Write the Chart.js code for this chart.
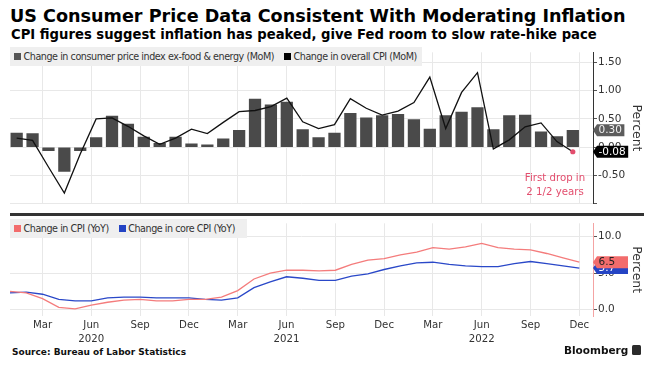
<!DOCTYPE html>
<html>
<head>
<meta charset="utf-8">
<script src="https://cdn.jsdelivr.net/npm/chart.js@4.4.1/dist/chart.umd.min.js"></script>
<style>
  body { margin: 0; width: 654px; height: 366px; background: #fff; position: relative; overflow: hidden; font-family: 'DejaVu Sans', sans-serif; color: #000; }
  .abs { position: absolute; }
  #title { left: 10px; top: 8px; font-weight: bold; font-size: 17.6px; line-height: 1; white-space: nowrap; }
  #subtitle { left: 11px; top: 28px; font-weight: bold; font-size: 13.2px; line-height: 1; white-space: nowrap; }
  .legend { background: #efefef; height: 19px; line-height: 20px; font-size: 9.6px; letter-spacing: -0.45px; color: #333; white-space: nowrap; padding-left: 4px; box-sizing: border-box; }
  .legend i { display: inline-block; width: 7px; height: 7px; margin-right: 2.5px; }
  .legend span + span { margin-left: 10px; }
  #sep { left: 10px; top: 213px; width: 634px; height: 3px; background: #333; }
  #note { left: 505px; top: 170.5px; width: 100px; text-align: center; font-size: 10.2px; line-height: 14px; color: #e34d6d; }
  #source { left: 12px; top: 347.5px; font-weight: bold; font-size: 9px; line-height: 1; color: #111; }
  #brand { left: 564px; top: 344.6px; font-weight: bold; font-size: 10.5px; line-height: 1; color: #111; }
  #logo { left: 632px; top: 345px; width: 9px; height: 10px; background: #2b2b2b; border-radius: 1.5px; }
</style>
</head>
<body>
<div id="title" class="abs">US Consumer Price Data Consistent With Moderating Inflation</div>
<div id="subtitle" class="abs">CPI figures suggest inflation has peaked, give Fed room to slow rate-hike pace</div>

<canvas id="topChart" class="abs" width="654" height="166" style="left:0;top:45px"></canvas>
<canvas id="bottomChart" class="abs" width="654" height="130" style="left:0;top:216px"></canvas>

<div class="abs legend" style="left:10px;top:47px;width:412px">
  <span><i style="background:#555"></i>Change in consumer price index ex-food &amp; energy (MoM)</span><span><i style="background:#000"></i>Change in overall CPI (MoM)</span>
</div>
<div class="abs legend" style="left:10px;top:219px;width:237px">
  <span><i style="background:#f26c6c"></i>Change in CPI (YoY)</span><span><i style="background:#2444c4"></i>Change in core CPI (YoY)</span>
</div>
<div id="sep" class="abs"></div>
<div id="note" class="abs">First drop in<br>2 1/2 years</div>
<div id="source" class="abs">Source: Bureau of Labor Statistics</div>
<div id="brand" class="abs">Bloomberg</div>
<div id="logo" class="abs"></div>

<script>
// Months covered by both panels
const months = [
  'Jan 2020', 'Feb 2020', 'Mar 2020', 'Apr 2020', 'May 2020', 'Jun 2020',
  'Jul 2020', 'Aug 2020', 'Sep 2020', 'Oct 2020', 'Nov 2020', 'Dec 2020',
  'Jan 2021', 'Feb 2021', 'Mar 2021', 'Apr 2021', 'May 2021', 'Jun 2021',
  'Jul 2021', 'Aug 2021', 'Sep 2021', 'Oct 2021', 'Nov 2021', 'Dec 2021',
  'Jan 2022', 'Feb 2022', 'Mar 2022', 'Apr 2022', 'May 2022', 'Jun 2022',
  'Jul 2022', 'Aug 2022', 'Sep 2022', 'Oct 2022', 'Nov 2022', 'Dec 2022'
];

// Month-over-month, percent
const coreMoM = [
  0.25, 0.24, -0.06, -0.43, -0.06, 0.17, 0.55, 0.41, 0.18, 0.07, 0.18, 0.06,
  0.04, 0.15, 0.30, 0.85, 0.75, 0.80, 0.31, 0.17, 0.25, 0.60, 0.52, 0.56,
  0.58, 0.49, 0.32, 0.56, 0.62, 0.70, 0.31, 0.56, 0.57, 0.27, 0.19, 0.30
];
const overallMoM = [
  0.16, 0.12, -0.35, -0.81, -0.12, 0.50, 0.52, 0.37, 0.20, 0.05, 0.16, 0.32,
  0.24, 0.44, 0.63, 0.65, 0.72, 0.87, 0.45, 0.33, 0.40, 0.86, 0.69, 0.57,
  0.64, 0.79, 1.24, 0.33, 0.97, 1.32, -0.03, 0.13, 0.36, 0.43, 0.10, -0.08
];

// Year-over-year, percent
const cpiYoY = [
  2.5, 2.3, 1.5, 0.3, 0.1, 0.6, 1.0, 1.3, 1.4, 1.2, 1.2, 1.4,
  1.4, 1.7, 2.6, 4.2, 5.0, 5.4, 5.4, 5.3, 5.4, 6.2, 6.8, 7.0,
  7.5, 7.9, 8.5, 8.3, 8.6, 9.1, 8.5, 8.3, 8.2, 7.7, 7.1, 6.5
];
const coreYoY = [
  2.3, 2.4, 2.1, 1.4, 1.2, 1.2, 1.6, 1.7, 1.7, 1.6, 1.6, 1.6,
  1.4, 1.3, 1.6, 3.0, 3.8, 4.5, 4.3, 4.0, 4.0, 4.6, 4.9, 5.5,
  6.0, 6.4, 6.5, 6.2, 6.0, 5.9, 5.9, 6.3, 6.6, 6.3, 6.0, 5.7
];

const tickMonths = ['Mar', 'Jun', 'Sep', 'Dec'];
const yearUnder = 'Jun';
const topTicks = [-1, -0.5, 0, 0.5, 1, 1.5];
const bottomTicks = [0, 5, 10];

const FONT = 'DejaVu Sans';
const GRID = '#e8e8e8';
const tickIndex = months.map((m, i) => tickMonths.includes(m.split(' ')[0]) ? i : -1).filter(i => i >= 0);

// the top panel spaces its bars a little tighter than the month grid
const bottomRange = [0, 35.84];
const topRange = [-0.42, 36.27];
function toTopUnits(m) {
  return topRange[0] + (m - bottomRange[0]) / (bottomRange[1] - bottomRange[0]) * (topRange[1] - topRange[0]);
}

const endLabels = {
  id: 'endLabels',
  afterDraw(chart, args, opts) {
    const ctx = chart.ctx;
    const y = chart.scales.y;
    const left = chart.chartArea.right;
    ctx.save();
    ctx.font = '10.5px "' + FONT + '"';
    ctx.textBaseline = 'middle';
    opts.items.forEach((item) => {
      const cy = y.getPixelForValue(item.value);
      const w = opts.width || ctx.measureText(item.text).width + 4;
      ctx.fillStyle = item.bg;
      ctx.beginPath();
      ctx.moveTo(left, cy);
      ctx.lineTo(left + 4, cy - 6);
      ctx.lineTo(left + 4 + w, cy - 6);
      ctx.lineTo(left + 4 + w, cy + 6);
      ctx.lineTo(left + 4, cy + 6);
      ctx.closePath();
      ctx.fill();
      ctx.fillStyle = item.color;
      ctx.fillText(item.text, left + 5.5, cy + 0.5);
    });
    ctx.restore();
  }
};

function yAxis(min, max, ticks, fmt, borderColor) {
  return {
    position: 'right',
    min: min,
    max: max,
    afterBuildTicks: (s) => { s.ticks = ticks.map(v => ({ value: v })); },
    afterFit: (s) => { s.width = 61; },
    ticks: { color: '#333', padding: 1, font: { family: FONT, size: 10.5 }, callback: fmt },
    grid: { color: GRID, tickLength: 4, tickColor: '#555' },
    border: { display: true, color: borderColor, width: 1 },
    title: { display: true, text: 'Percent', color: '#333', font: { family: FONT, size: 12.5 }, padding: { top: 10, bottom: 0 } }
  };
}

const last = coreMoM.length - 1;

new Chart(document.getElementById('topChart'), {
  type: 'bar',
  data: {
    datasets: [
      {
        type: 'line',
        data: overallMoM.map((v, i) => ({ x: i, y: v })),
        borderColor: '#111',
        borderWidth: 1.3,
        tension: 0,
        pointRadius: (c) => c.dataIndex === last ? 2.6 : 0,
        pointBackgroundColor: '#e34d6d',
        pointBorderWidth: 0,
        order: 0
      },
      {
        data: coreMoM.map((v, i) => ({ x: i, y: v })),
        backgroundColor: '#4a4a4a',
        barThickness: 11.6,
        order: 1
      }
    ]
  },
  options: {
    responsive: false,
    animation: false,
    devicePixelRatio: 1,
    layout: { padding: { left: 10, right: 0, top: 0, bottom: 0 } },
    plugins: {
      legend: { display: false },
      tooltip: { enabled: false },
      endLabels: {
        items: [
          { value: coreMoM[last], text: coreMoM[last].toFixed(2), bg: '#5c5c5c', color: '#f0f0f0' },
          { value: overallMoM[last], text: overallMoM[last].toFixed(2), bg: '#000', color: '#fff' }
        ]
      }
    },
    scales: {
      x: {
        type: 'linear',
        min: topRange[0],
        max: topRange[1],
        offset: false,
        afterBuildTicks: (s) => { s.ticks = tickIndex.map(m => ({ value: toTopUnits(m) })); },
        afterFit: (s) => { s.height = 0; },
        ticks: { display: false },
        grid: { color: GRID, drawTicks: false, offset: false },
        border: { display: false }
      },
      y: yAxis(-1, 1.68, topTicks, (v) => v === -1 ? '' : v.toFixed(2), '#333')
    }
  },
  plugins: [endLabels]
});

new Chart(document.getElementById('bottomChart'), {
  type: 'line',
  data: {
    datasets: [
      { data: cpiYoY.map((v, i) => ({ x: i, y: v })), borderColor: '#f47c7c', borderWidth: 1.3, pointRadius: 0, tension: 0 },
      { data: coreYoY.map((v, i) => ({ x: i, y: v })), borderColor: '#2a48c8', borderWidth: 1.3, pointRadius: 0, tension: 0 }
    ]
  },
  options: {
    responsive: false,
    animation: false,
    devicePixelRatio: 1,
    layout: { padding: { left: 10, right: 0, top: 0, bottom: 0 } },
    plugins: {
      legend: { display: false },
      tooltip: { enabled: false },
      endLabels: {
        width: 31,
        items: [
          { value: coreYoY[last], text: coreYoY[last].toFixed(1), bg: '#2444c4', color: '#fff' },
          { value: cpiYoY[last], text: cpiYoY[last].toFixed(1), bg: '#f26c6c', color: '#222' }
        ]
      }
    },
    scales: {
      x: {
        type: 'linear',
        min: bottomRange[0],
        max: bottomRange[1],
        offset: false,
        afterBuildTicks: (s) => { s.ticks = tickIndex.map(m => ({ value: m })); },
        afterFit: (s) => { s.height = 30; },
        ticks: {
          autoSkip: false,
          maxRotation: 0,
          padding: 2,
          color: '#333',
          font: { family: FONT, size: 10.2, lineHeight: 1.39 },
          callback: (v) => {
            const parts = months[v].split(' ');
            return parts[0] === yearUnder ? parts : parts[0];
          }
        },
        grid: { color: GRID, drawTicks: false, offset: false },
        border: { display: false }
      },
      y: yAxis(-0.89, 11.85, bottomTicks, (v) => v.toFixed(1), '#f4a3a3')
    }
  },
  plugins: [endLabels]
});
</script>
</body>
</html>
